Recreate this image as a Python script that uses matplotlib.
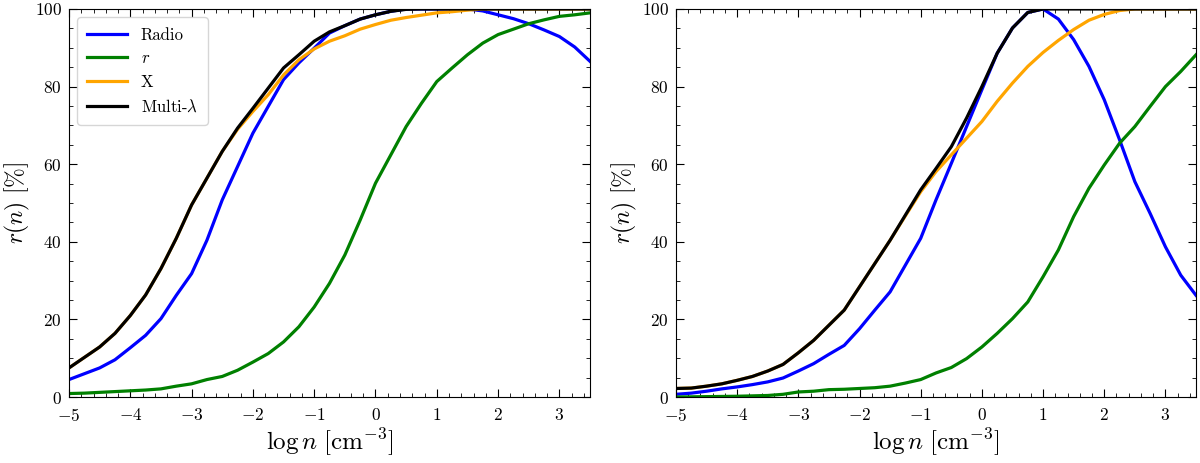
import matplotlib
matplotlib.use('Agg')
import matplotlib.pyplot as plt
import numpy as np
from matplotlib.ticker import MultipleLocator

plt.rcParams['font.family'] = 'serif'
plt.rcParams['font.serif'] = ['cmr10', 'DejaVu Serif']
plt.rcParams['mathtext.fontset'] = 'cm'
plt.rcParams['axes.formatter.use_mathtext'] = True
plt.rcParams['axes.unicode_minus'] = True

# log n grid, step 0.25
logn = np.arange(-5, 3.5001, 0.25)

# left panel
radio_l = [4.5, 6.0, 7.5, 9.6, 12.7, 15.9, 20.2, 26.2, 31.8, 40.4, 50.8, 59.4,
           68.0, 74.9, 81.8, 86.1, 89.9, 93.8, 95.7, 97.4, 98.5, 99.4, 100, 100,
           100, 100, 100, 99.5, 98.5, 97.5, 96.2, 94.6, 92.9, 90.2, 86.5]
r_l = [0.9, 1.0, 1.2, 1.4, 1.6, 1.8, 2.1, 2.8, 3.4, 4.5, 5.3, 6.9,
       9.0, 11.2, 14.2, 18.1, 23.2, 29.3, 36.6, 45.6, 55.1, 62.4, 69.7, 75.7,
       81.3, 84.8, 88.2, 91.2, 93.4, 94.8, 96.2, 97.2, 98.1, 98.5, 99.0]
x_l = [7.5, 10.2, 12.9, 16.4, 21.0, 26.3, 33.1, 40.9, 49.5, 56.4, 63.3, 69.0,
       73.6, 77.9, 83.0, 86.9, 89.7, 91.7, 93.1, 94.8, 96.0, 97.1, 97.8, 98.4,
       99.0, 99.3, 99.7, 100, 100, 100, 100, 100, 100, 100, 100]
multi_l = [7.5, 10.2, 12.9, 16.4, 21.0, 26.3, 33.1, 40.9, 49.5, 56.4, 63.3, 69.3,
           74.4, 79.6, 84.8, 88.2, 91.7, 94.1, 95.7, 97.4, 98.5, 99.4, 99.9, 100,
           100, 100, 100, 100, 100, 100, 100, 100, 100, 100, 100]

# right panel
radio_r = [0.7, 1.0, 1.5, 2.1, 2.6, 3.2, 3.9, 4.9, 6.7, 8.6, 11.0, 13.3,
           17.6, 22.4, 27.1, 34.0, 40.9, 50.8, 60.2, 69.7, 79.2, 88.6, 95.1, 99.1,
           100, 97.4, 92.1, 85.2, 76.6, 66.3, 55.5, 47.3, 38.7, 31.4, 26.2]
r_r = [0.0, 0.05, 0.1, 0.15, 0.2, 0.3, 0.4, 0.7, 1.3, 1.5, 1.9, 2.0,
       2.2, 2.4, 2.8, 3.6, 4.5, 6.2, 7.6, 9.9, 12.9, 16.4, 20.2, 24.5,
       31.0, 37.9, 46.5, 53.8, 59.8, 65.4, 69.7, 74.9, 80.0, 83.9, 88.2]
x_r = [2.2, 2.3, 2.8, 3.4, 4.3, 5.3, 6.7, 8.4, 11.4, 14.6, 18.5, 22.4,
       28.4, 34.4, 40.4, 46.7, 52.9, 58.1, 62.4, 66.7, 71.0, 76.2, 80.9, 85.2,
       88.8, 91.9, 94.7, 97.1, 98.6, 99.6, 100, 100, 100, 100, 100]
multi_r = [2.2, 2.3, 2.8, 3.4, 4.3, 5.3, 6.7, 8.4, 11.4, 14.6, 18.5, 22.4,
           28.4, 34.4, 40.4, 46.9, 53.4, 58.9, 64.5, 71.9, 80.0, 88.6, 95.1, 99.1,
           100, 100, 100, 100, 100, 100, 100, 100, 100, 100, 100]

labels = ['Radio', '$r$', 'X', r'Multi-$\lambda$']
colors = ['blue', 'green', 'orange', 'black']

fig = plt.figure(figsize=(12, 4.63), dpi=100)
ax1 = fig.add_axes([0.0575, 0.1425, 0.4342, 0.8381])
ax2 = fig.add_axes([0.5633, 0.1425, 0.4334, 0.8381])

for ax, series in zip([ax1, ax2], [[radio_l, r_l, x_l, multi_l],
                                   [radio_r, r_r, x_r, multi_r]]):
    for y, c, lab in zip(series, colors, labels):
        ax.plot(logn, y, color=c, lw=2.3, label=lab)
    ax.set_xlim(-5, 3.5)
    ax.set_ylim(0, 100)
    ax.xaxis.set_major_locator(MultipleLocator(1))
    ax.xaxis.set_minor_locator(MultipleLocator(0.2))
    ax.yaxis.set_major_locator(MultipleLocator(20))
    ax.yaxis.set_minor_locator(MultipleLocator(5))
    ax.tick_params(which='both', direction='in', top=True, right=True, labelsize=12.5)
    ax.tick_params(axis='x', which='major', pad=7)
    ax.tick_params(axis='y', which='major', pad=5)
    ax.tick_params(which='major', length=6)
    ax.tick_params(which='minor', length=3)
    ax.set_xlabel(r'$\log n\ [\mathrm{cm}^{-3}]$', fontsize=18, labelpad=2)
    ax.set_ylabel(r'$r(n)\ [\%]$', fontsize=17, labelpad=2)

ax1.legend(loc='upper left', fontsize=12, handlelength=2.4, borderpad=0.6,
           labelspacing=0.5)

fig.savefig('out.png', dpi=100)
